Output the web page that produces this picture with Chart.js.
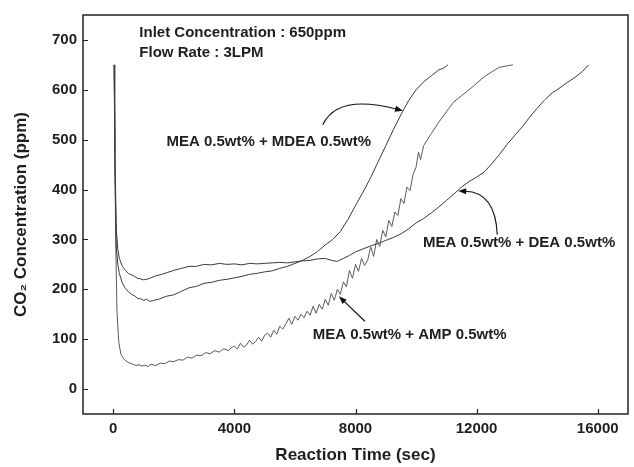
<!DOCTYPE html>
<html>
<head>
<meta charset="utf-8">
<script src="https://cdn.jsdelivr.net/npm/chart.js@4.4.1/dist/chart.umd.min.js"></script>
<style>
  html, body { margin: 0; padding: 0; background: #fff; }
</style>
</head>
<body>
<canvas id="grafico" width="634" height="467"></canvas>
<script>
// valores (tempo em s, concentração em ppm)
const tempoMdea = [30, 60, 100, 150, 200, 300, 400, 500, 600, 700, 800, 900, 1000, 1100, 1200, 1300, 1400, 1500, 1750, 2000, 2250, 2500, 2750, 3000, 3250, 3500, 3750, 4000, 4250, 4500, 4750, 5000, 5250, 5500, 5750, 6000, 6250, 6500, 6750, 7000, 7250, 7500, 7750, 8000, 8250, 8500, 8750, 9000, 9250, 9500, 9750, 10000, 10250, 10500, 10750, 10900, 11050];
const concMdea = [650, 420, 285, 250, 232, 212, 202, 195, 190, 187, 182, 181, 178, 180, 176, 177, 179, 180, 186, 189, 196, 203, 206, 212, 214, 218, 220, 223, 226, 230, 232, 235, 237, 242, 246, 252, 258, 266, 276, 289, 300, 316, 340, 368, 395, 424, 456, 488, 520, 550, 578, 600, 616, 628, 640, 643, 650];

const tempoDea = [30, 60, 100, 150, 200, 300, 400, 500, 600, 700, 800, 900, 1000, 1100, 1200, 1400, 1600, 1800, 2000, 2250, 2500, 2750, 3000, 3250, 3500, 3750, 4000, 4250, 4500, 4750, 5000, 5250, 5500, 5750, 6000, 6250, 6500, 6750, 7000, 7200, 7400, 7600, 7800, 8000, 8250, 8500, 8750, 9000, 9250, 9500, 9750, 10000, 10250, 10500, 10750, 11000, 11250, 11500, 11750, 12000, 12250, 12500, 12750, 13000, 13250, 13500, 13750, 14000, 14250, 14500, 14750, 15000, 15250, 15500, 15700];
const concDea = [650, 450, 320, 280, 262, 246, 238, 232, 229, 226, 222, 221, 219, 220, 222, 227, 230, 234, 238, 242, 246, 246, 250, 249, 252, 250, 251, 249, 252, 251, 252, 253, 254, 253, 255, 257, 258, 261, 262, 258, 256, 262, 268, 275, 281, 287, 292, 298, 304, 311, 321, 333, 342, 353, 365, 378, 391, 405, 416, 425, 435, 452, 470, 490, 508, 525, 545, 563, 580, 594, 604, 615, 625, 637, 650];

const tempoAmp = [30, 50, 80, 120, 180, 250, 350, 450, 550, 650, 750, 850, 950, 1050, 1150, 1250, 1400, 1550, 1700, 1850, 2000, 2150, 2300, 2450, 2600, 2750, 2900, 3050, 3200, 3350, 3500, 3650, 3800, 3900,
    4000, 4100, 4200, 4300, 4400, 4500, 4600, 4700, 4800, 4900, 5000, 5100, 5200, 5300, 5400, 5500, 5600, 5700, 5800, 5900, 6000, 6100, 6200, 6300, 6400, 6500, 6600, 6700, 6800, 6900, 7000, 7100, 7200, 7300, 7400, 7500, 7600, 7700, 7800, 7900, 8000, 8100, 8200, 8300, 8400, 8500, 8600, 8700, 8800, 8900, 9000, 9100, 9200, 9300, 9400, 9500, 9600, 9700, 9800, 9900, 10000, 10080, 10150, 10250,
    10500, 10750, 11000, 11250, 11500, 11750, 12000, 12250, 12500, 12750, 13000, 13200];
const concAmp = [650, 480, 300, 160, 95, 70, 60, 55, 52, 50, 47, 49, 46, 48, 45, 50, 47, 52, 51, 56, 55, 59, 58, 64, 62, 68, 67, 73, 71, 77, 74, 81, 77, 83,
    86, 80, 92, 84, 88, 98, 90, 95, 104, 96, 108, 112, 104, 118, 110, 126, 120, 131, 142, 130, 146, 138, 150, 143, 156, 148, 166, 152, 170, 160, 180, 168, 192, 178, 200, 190, 215, 205, 238, 222, 250, 236, 262, 248, 258, 285, 266, 300, 286, 318, 305, 338, 326, 355, 348, 382, 372, 405, 398, 430, 445, 475, 460, 488,
    512, 535, 556, 576, 588, 600, 613, 626, 636, 645, 648, 650];

const ticksX = [0, 4000, 8000, 12000, 16000];
const ticksY = [0, 100, 200, 300, 400, 500, 600, 700];

// textos e setas em coordenadas dos dados
const notas = [
    { texto: "Inlet Concentration : 650ppm", x: 860, y: 706 },
    { texto: "Flow Rate : 3LPM", x: 860, y: 666 },
    { texto: "MEA 0.5wt% + MDEA 0.5wt%", x: 1755, y: 488 },
    { texto: "MEA 0.5wt% + DEA 0.5wt%", x: 10232, y: 285 },
    { texto: "MEA 0.5wt% + AMP 0.5wt%", x: 6589, y: 101 }
];
const setas = [
    { de: [6920, 530], ctrl: [7400, 592], ate: [9570, 558] },
    { de: [12682, 310], ctrl: [12616, 395], ate: [11391, 397] },
    { de: [8311, 136], ctrl: [7880, 161], ate: [7450, 186] }
];

const fonte = "'Liberation Sans', Arial, sans-serif";
const corTexto = "#1e1e1e";

function pontos(xs, ys) {
    return xs.map((x, i) => ({ x: x, y: ys[i] }));
}

const moldura = {
    id: "moldura",
    afterDraw(chart) {
        const ctx = chart.ctx;
        const area = chart.chartArea;
        const sx = chart.scales.x;
        const sy = chart.scales.y;
        ctx.save();
        ctx.strokeStyle = "#222";
        ctx.lineWidth = 1.5;
        ctx.strokeRect(area.left, area.top, area.right - area.left, area.bottom - area.top);

        // ticks para dentro
        ctx.lineWidth = 1.2;
        ctx.beginPath();
        ticksX.forEach(v => {
            const px = Math.round(sx.getPixelForValue(v)) + 0.5;
            ctx.moveTo(px, area.bottom);
            ctx.lineTo(px, area.bottom - 5);
        });
        ticksY.forEach(v => {
            const py = Math.round(sy.getPixelForValue(v)) + 0.5;
            ctx.moveTo(area.left, py);
            ctx.lineTo(area.left + 5, py);
        });
        ctx.stroke();

        ctx.fillStyle = corTexto;
        ctx.font = "bold 15px " + fonte;
        ctx.textBaseline = "alphabetic";
        ctx.textAlign = "left";
        notas.forEach(n => {
            ctx.fillText(n.texto, sx.getPixelForValue(n.x), sy.getPixelForValue(n.y));
        });

        ctx.strokeStyle = "#111";
        ctx.fillStyle = "#111";
        ctx.lineWidth = 1.2;
        setas.forEach(s => {
            const x0 = sx.getPixelForValue(s.de[0]), y0 = sy.getPixelForValue(s.de[1]);
            const cx = sx.getPixelForValue(s.ctrl[0]), cy = sy.getPixelForValue(s.ctrl[1]);
            const x1 = sx.getPixelForValue(s.ate[0]), y1 = sy.getPixelForValue(s.ate[1]);
            const ang = Math.atan2(y1 - cy, x1 - cx);
            const bx = x1 - 7 * Math.cos(ang), by = y1 - 7 * Math.sin(ang);
            ctx.beginPath();
            ctx.moveTo(x0, y0);
            ctx.quadraticCurveTo(cx, cy, bx, by);
            ctx.stroke();
            ctx.beginPath();
            ctx.moveTo(x1, y1);
            ctx.lineTo(x1 - 8 * Math.cos(ang) + 3 * Math.sin(ang), y1 - 8 * Math.sin(ang) - 3 * Math.cos(ang));
            ctx.lineTo(x1 - 8 * Math.cos(ang) - 3 * Math.sin(ang), y1 - 8 * Math.sin(ang) + 3 * Math.cos(ang));
            ctx.closePath();
            ctx.fill();
        });
        ctx.restore();
    }
};

const serie = (dados, cor) => ({
    data: dados,
    showLine: true,
    borderColor: cor,
    borderWidth: 1,
    pointRadius: 0,
    tension: 0,
    fill: false
});

new Chart(document.getElementById("grafico"), {
    type: "scatter",
    data: {
        datasets: [
            serie(pontos(tempoMdea, concMdea), "#3a3a3a"),
            serie(pontos(tempoDea, concDea), "#3a3a3a"),
            serie(pontos(tempoAmp, concAmp), "#5a5a5a")
        ]
    },
    options: {
        responsive: false,
        animation: false,
        layout: { padding: { top: 10, right: 6, left: 0, bottom: 0 } },
        plugins: { legend: { display: false }, tooltip: { enabled: false } },
        scales: {
            x: {
                type: "linear",
                min: -1000,
                max: 17000,
                afterFit: s => { s.height = 53; },
                afterBuildTicks: s => { s.ticks = ticksX.map(v => ({ value: v })); },
                grid: { display: false, drawTicks: false },
                border: { display: false },
                ticks: { color: corTexto, padding: 6, maxRotation: 0, callback: v => String(v), font: { family: fonte, size: 15, weight: "bold" } },
                title: { display: true, text: "Reaction Time (sec)", color: corTexto, padding: { top: 0, bottom: 1 }, font: { family: fonte, size: 17, weight: "bold" } }
            },
            y: {
                type: "linear",
                min: -50,
                max: 750,
                afterFit: s => { s.width = 83; },
                afterBuildTicks: s => { s.ticks = ticksY.map(v => ({ value: v })); },
                grid: { display: false, drawTicks: false },
                border: { display: false },
                ticks: { color: corTexto, padding: 6, callback: v => String(v), font: { family: fonte, size: 15, weight: "bold" } },
                title: { display: true, text: "CO₂ Concentration (ppm)", color: corTexto, padding: { top: 11, bottom: 0 }, font: { family: fonte, size: 17, weight: "bold" } }
            }
        }
    },
    plugins: [moldura]
});
</script>
</body>
</html>
